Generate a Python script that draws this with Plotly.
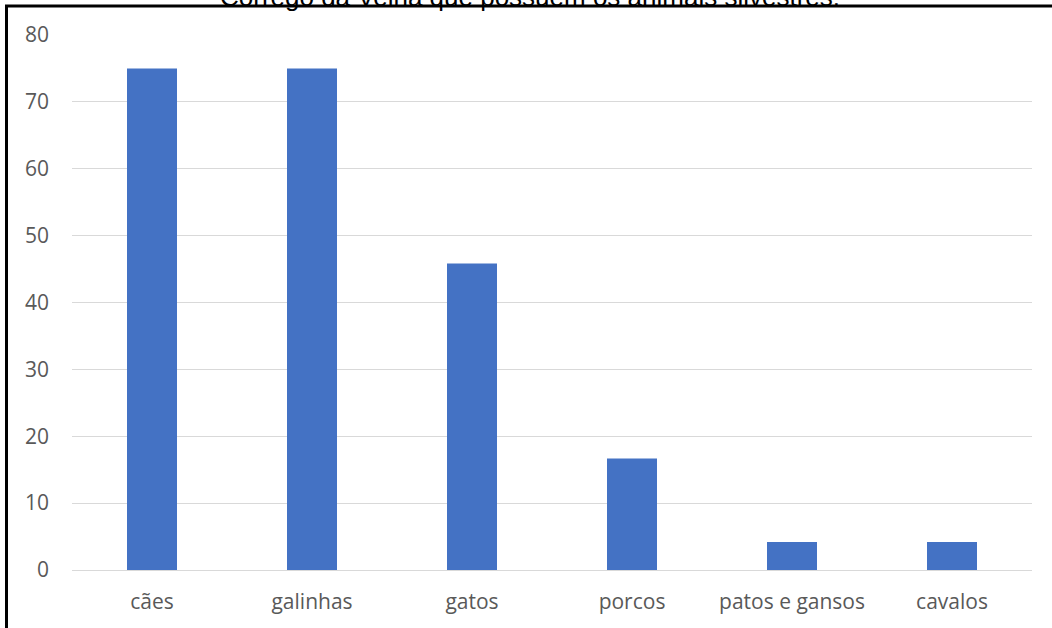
import plotly.graph_objects as go

# Percentage of households owning each animal
categorias = ["cães", "galinhas", "gatos", "porcos", "patos e gansos", "cavalos"]
percentuais = [75.0, 75.0, 45.83, 16.67, 4.17, 4.17]
y_ticks = [0, 10, 20, 30, 40, 50, 60, 70, 80]
titulo = "Córrego da Velha que possuem os animais silvestres."

W, H = 1052, 628
L, R, T, B = 72, 20, 35, 58
pw, ph = W - L - R, H - T - B


def px_x(p):
    return (p - L) / pw


def px_y(q):
    return (H - B - q) / ph


fig = go.Figure(
    go.Bar(
        x=categorias,
        y=percentuais,
        marker=dict(color="#4472C4", line=dict(width=0)),
        width=0.3125,
    )
)

fig.update_layout(
    width=W,
    height=H,
    margin=dict(l=L, r=R, t=T, b=B),
    paper_bgcolor="white",
    plot_bgcolor="white",
    showlegend=False,
    font=dict(family="Open Sans, sans-serif", size=21, color="#595959"),
    title=dict(
        text=titulo,
        x=530 / W,
        xref="container",
        xanchor="center",
        y=1 - 6 / H,
        yref="container",
        yanchor="bottom",
        font=dict(family="Liberation Sans, Arial, sans-serif", size=26, color="black"),
    ),
)

fig.update_yaxes(
    range=[0, 80],
    tickvals=y_ticks,
    showgrid=True,
    gridcolor="#d9d9d9",
    gridwidth=1,
    zeroline=False,
    showline=False,
    ticks="",
    ticklabelstandoff=22,
    fixedrange=True,
)
fig.update_xaxes(
    showgrid=False,
    showline=True,
    linecolor="#d9d9d9",
    linewidth=1,
    ticks="",
    ticklabelstandoff=13,
    fixedrange=True,
)

# Black frame around the chart (top and left edges)
fig.add_shape(type="line", xref="paper", yref="paper",
              x0=px_x(5), x1=px_x(W + 5), y0=px_y(6), y1=px_y(6),
              line=dict(color="black", width=3))
fig.add_shape(type="line", xref="paper", yref="paper",
              x0=px_x(6.5), x1=px_x(6.5), y0=px_y(5), y1=px_y(H + 5),
              line=dict(color="black", width=3))

fig.write_html("out.html")
